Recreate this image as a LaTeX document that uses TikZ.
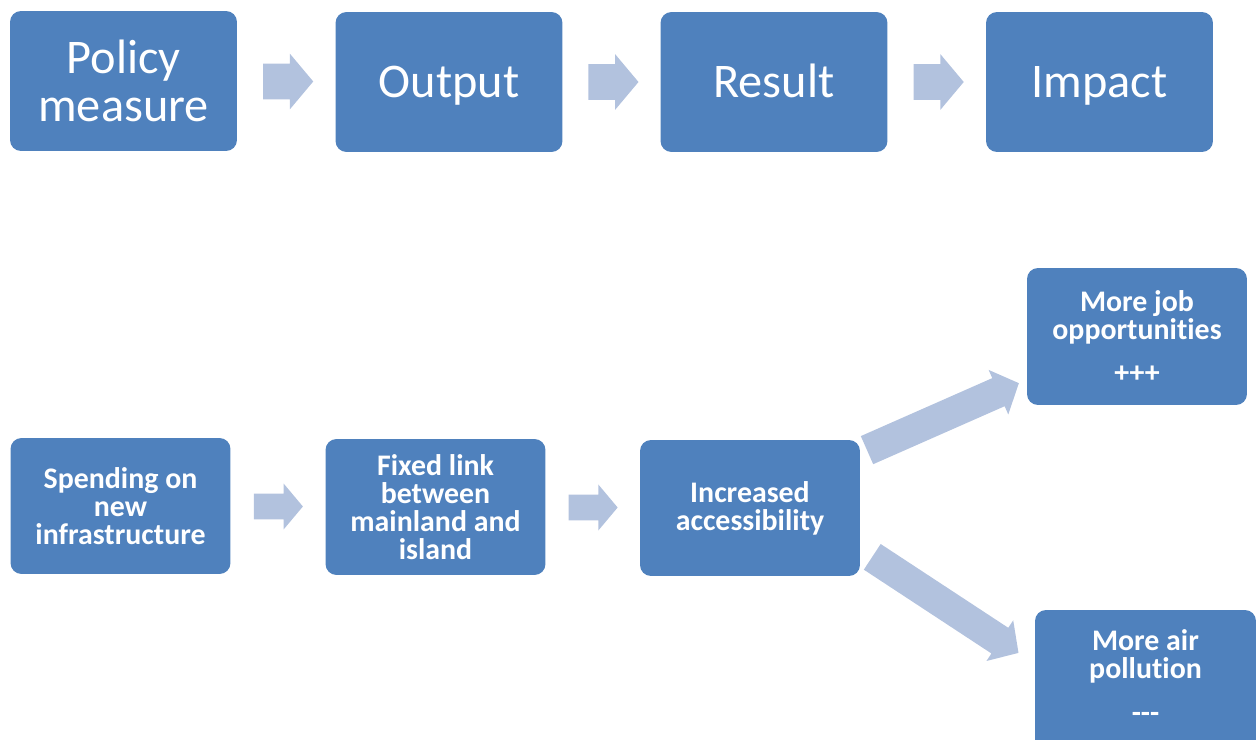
\documentclass[tikz,border=0pt]{standalone}
\usepackage{fontspec}
\setmainfont{Carlito}[Ligatures=NoCommon]
\usetikzlibrary{shapes.arrows,calc}
\definecolor{boxblue}{RGB}{79,129,189}
\definecolor{arrowblue}{RGB}{178,194,222}
\begin{document}
\begin{tikzpicture}[x=0.02cm,y=-0.02cm,
  box/.style={fill=boxblue, rounded corners=0.22cm, text=white, align=center, inner sep=0pt},
  bigbox/.style={box, minimum width=4.54cm, minimum height=2.8cm, font=\fontsize{27.5}{27}\selectfont},
  onebox/.style={bigbox, text height=18pt, text depth=0pt},
  smallbox/.style={box, minimum width=4.4cm, minimum height=2.72cm, font=\bfseries\fontsize{17}{16}\selectfont},
  lbl/.style={text=white, align=center, inner sep=0pt, font=\bfseries\fontsize{17}{16}\selectfont},
  blockarrow/.style={single arrow, fill=arrowblue, draw=none, inner xsep=0pt, single arrow tip angle=100},
  toparrow/.style={blockarrow, inner ysep=0.35cm, single arrow head extend=0.2cm, minimum height=1.0cm},
  midarrow/.style={blockarrow, inner ysep=0.25cm, single arrow head extend=0.2cm, minimum height=0.98cm},
  diagarrow/.style={blockarrow, inner ysep=0.3cm, single arrow head extend=0.18cm, single arrow tip angle=95}
]
\useasboundingbox (0,0) rectangle (1259,740);
% top row
\node[bigbox] (pm) at (123.5,81) {Policy\\measure};
\node[onebox] (out) at (449,82) {Output};
\node[onebox] (res) at (774,82) {Result};
\node[onebox] (imp) at (1099.5,82) {Impact};
\node[toparrow] (a1) at ($(pm.east)!0.5!(out.west)+(-5.5,0)$) {};
\node[toparrow] (a2) at ($(out.east)!0.5!(res.west)+(-5.5,0)$) {};
\node[toparrow] (a3) at ($(res.east)!0.5!(imp.west)+(-5.5,0)$) {};
% bottom row
\node[smallbox] (sp) at (120.5,506) {Spending on\\new\\infrastructure};
\node[smallbox] (fl) at (435.5,507) {Fixed link\\between\\mainland and\\island};
\node[smallbox] (acc) at (750,508) {Increased\\accessibility};
\node[box, minimum width=4.4cm, minimum height=2.74cm] (job) at (1137,336.5) {};
\node[box, minimum width=4.42cm, minimum height=2.8cm] (pol) at (1145.5,680) {};
\node[lbl] (jobt) at ($(job.north)+(0,50)$) {More job\\opportunities};
\node[lbl] (jobp) at ($(job.north)+(0,107)$) {+++};
\node[lbl] (polt) at ($(pol.north)+(0,47)$) {More air\\pollution};
\node[lbl] (polm) at ($(pol.north)+(0,108)$) {{-}{-}{-}};
\node[midarrow] (b1) at ($(sp.east)!0.5!(fl.west)+(-5,0)$) {};
\node[midarrow] (b2) at ($(fl.east)!0.5!(acc.west)+(-5,0)$) {};
\node[diagarrow, minimum height=3.32cm, rotate=23.8] (d1) at ($(acc.north east)!0.5!(job.south west)+(-7,-3)$) {};
\node[diagarrow, minimum height=3.5cm, rotate=-33.3] (d2) at ($(acc.south east)!0.5!(pol.north west)+(-8,8)$) {};
\end{tikzpicture}
\end{document}
